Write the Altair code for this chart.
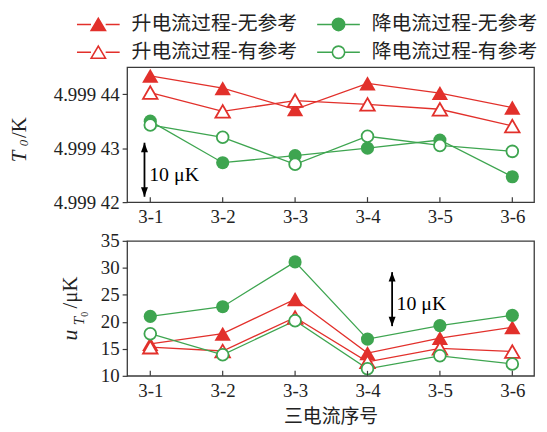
import altair as alt
import pandas as pd

# ---------------- data ----------------
categories = ["3-1", "3-2", "3-3", "3-4", "3-5", "3-6"]
positions = [1, 2, 3, 4, 5, 6]
series_names = ["升电流过程-无参考", "升电流过程-有参考", "降电流过程-无参考", "降电流过程-有参考"]

# T0 / K
t0_up_noref = [4.9994434, 4.9994411, 4.9994372, 4.9994420, 4.9994402, 4.9994375]
t0_up_ref = [4.9994403, 4.9994368, 4.9994388, 4.9994381, 4.9994372, 4.9994341]
t0_down_noref = [4.9994350, 4.9994273, 4.9994286, 4.9994300, 4.9994315, 4.9994247]
t0_down_ref = [4.9994343, 4.9994320, 4.9994270, 4.9994322, 4.9994305, 4.9994294]

# u_T0 / uK
u_up_noref = [15.9, 17.8, 24.2, 14.2, 17.0, 19.0]
u_up_ref = [15.3, 14.6, 20.8, 12.6, 15.1, 14.5]
u_down_noref = [21.0, 22.8, 31.1, 16.8, 19.3, 21.2]
u_down_ref = [17.8, 13.9, 20.2, 11.3, 13.7, 12.2]

top_ticks = [4.99942, 4.99943, 4.99944]
bottom_ticks = [10, 15, 20, 25, 30, 35]

# scale bar annotations
top_bar = {"pos": [0.92], "y0": [4.999421], "y1": [4.999431], "tx": [0.985], "ty": [4.999425], "label": ["10 μK"]}
bottom_bar = {"pos": [4.34], "y0": [19.2], "y1": [29.2], "tx": [4.40], "ty": [23.3], "label": ["10 μK"]}

# ---------------- style ----------------
RED = "#e2302b"
GREEN = "#3ea550"
FRAME = "#3a3a3a"
TXT = "#222222"
SERIF = "Liberation Serif, DejaVu Serif, serif"
CJK = "Noto Sans CJK SC"
W, H = 410, 136

styles = {
    series_names[0]: dict(color=RED, shape="triangle-up", filled=True, size=270),
    series_names[1]: dict(color=RED, shape="triangle-up", filled=False, size=215),
    series_names[2]: dict(color=GREEN, shape="circle", filled=True, size=175),
    series_names[3]: dict(color=GREEN, shape="circle", filled=False, size=140),
}

label_expr = "[" + ",".join("'%s'" % c for c in categories) + "][datum.value - 1]"
x_scale = alt.Scale(domain=[0.68, 6.3], nice=False, zero=False)


def make_df(vals):
    return pd.DataFrame({"pos": positions, "value": vals, "cat": categories})


def make_x_axis(show_title):
    return alt.Axis(
        values=positions, labelExpr=label_expr, ticks=False, domain=False, grid=False,
        labelFont=SERIF, labelFontSize=19, labelColor=TXT, labelPadding=6, labelFlush=False,
        title="三电流序号" if show_title else None,
        titleFont=CJK, titleFontSize=19, titleFontWeight="normal", titleColor=TXT, titlePadding=7,
    )


def series_layers(data, yscale, yaxis, xaxis):
    layers = []
    for name, vals in data:
        st = styles[name]
        base = alt.Chart(make_df(vals)).encode(
            x=alt.X("pos:Q", scale=x_scale, axis=xaxis),
            y=alt.Y("value:Q", scale=yscale, axis=yaxis))
        layers.append(base.mark_line(color=st["color"], strokeWidth=1.3))
    for name, vals in data:
        st = styles[name]
        base = alt.Chart(make_df(vals)).encode(
            x=alt.X("pos:Q", scale=x_scale, axis=xaxis),
            y=alt.Y("value:Q", scale=yscale, axis=yaxis))
        if st["filled"]:
            m = base.mark_point(shape=st["shape"], filled=True, color=st["color"], size=st["size"],
                                opacity=1, strokeWidth=0)
        else:
            m = base.mark_point(shape=st["shape"], filled=True, fill="white", stroke=st["color"],
                                strokeWidth=1.8, size=st["size"], opacity=1)
        layers.append(m)
    return layers


head_up = "M0,0L0.7,1.9L-0.7,1.9Z"
head_down = "M0,0L0.7,-1.9L-0.7,-1.9Z"


def bar_layers(bar, yscale, yaxis, xaxis):
    b = alt.Chart(pd.DataFrame(bar))
    xe = alt.X("pos:Q", scale=x_scale, axis=xaxis)
    rule = b.mark_rule(color="black", strokeWidth=1.8).encode(
        x=xe, y=alt.Y("y0:Q", scale=yscale, axis=yaxis), y2="y1:Q")
    up = b.mark_point(shape=head_up, filled=True, color="black", size=100, opacity=1, strokeWidth=0).encode(
        x=xe, y=alt.Y("y1:Q", scale=yscale, axis=yaxis))
    down = b.mark_point(shape=head_down, filled=True, color="black", size=100, opacity=1, strokeWidth=0).encode(
        x=xe, y=alt.Y("y0:Q", scale=yscale, axis=yaxis))
    txt = b.mark_text(align="left", baseline="middle", font=SERIF, fontSize=20, color="black").encode(
        x=alt.X("tx:Q", scale=x_scale, axis=xaxis), y=alt.Y("ty:Q", scale=yscale, axis=yaxis), text="label:N")
    return [rule, up, down, txt]


def inner_ticks(xaxis):
    return alt.Chart(pd.DataFrame({"pos": positions})).mark_rule(color=FRAME, strokeWidth=1.2).encode(
        x=alt.X("pos:Q", scale=x_scale, axis=xaxis), y=alt.value(H - 5), y2=alt.value(H))


def title_piece(text, x, y, size, italic):
    kw = dict(angle=270, align="center", baseline="alphabetic", font=SERIF, fontSize=size, color=TXT)
    if italic:
        kw["fontStyle"] = "italic"
    return alt.Chart(pd.DataFrame({"t": [text]})).mark_text(**kw).encode(
        x=alt.value(x), y=alt.value(y), text="t:N")


# ---------------- top panel ----------------
top_scale = alt.Scale(domain=[4.99942, 4.999445], nice=False, zero=False)
top_axis = alt.Axis(
    values=top_ticks, title=None, grid=False, domain=False, tickSize=5, tickColor=FRAME, tickWidth=1.2,
    labelFont=SERIF, labelFontSize=19, labelColor=TXT, labelPadding=3,
    labelExpr="substring(format(datum.value, '.5f'), 0, 5) + ' ' + substring(format(datum.value, '.5f'), 5)",
)
top_x_axis = make_x_axis(False)
top_data = [(series_names[0], t0_up_noref), (series_names[1], t0_up_ref),
            (series_names[2], t0_down_noref), (series_names[3], t0_down_ref)]

# legend (line + marker symbols); entries fill column by column
tri_path = "M-2.15,0H-0.74M0.74,0H2.15M0,-0.62L0.72,0.6L-0.72,0.6Z"
circ_path = "M-2.15,0H-0.68M0.68,0H2.15M0.62,0A0.62,0.62 0 1,1 -0.62,0A0.62,0.62 0 1,1 0.62,0Z"
legend_def = alt.Legend(
    orient="none", legendX=-40, legendY=-54, columns=2, title=None,
    labelFont=CJK, labelFontSize=20, labelColor=TXT, labelLimit=400, labelOffset=22.5,
    symbolSize=400, symbolStrokeWidth=1.6, symbolOpacity=1,
    columnPadding=16, rowPadding=7, padding=0,
)
legend_layer = alt.Chart(pd.DataFrame({"series": series_names})).transform_filter("false").mark_point(
    filled=True, opacity=1).encode(
    shape=alt.Shape("series:N", scale=alt.Scale(domain=series_names, range=[tri_path, tri_path, circ_path, circ_path]), legend=legend_def),
    stroke=alt.Stroke("series:N", scale=alt.Scale(domain=series_names, range=[RED, RED, GREEN, GREEN]), legend=legend_def),
    fill=alt.Fill("series:N", scale=alt.Scale(domain=series_names, range=[RED, "white", GREEN, "white"]), legend=legend_def),
)

top = alt.layer(
    *series_layers(top_data, top_scale, top_axis, top_x_axis),
    *bar_layers(top_bar, top_scale, top_axis, top_x_axis),
    inner_ticks(top_x_axis),
    title_piece("T", -102, 90, 21, True),
    title_piece("0", -100, 76.5, 13, True),
    title_piece("/K", -102, 61, 21, False),
    legend_layer,
).properties(width=W, height=H)

# ---------------- bottom panel ----------------
bot_scale = alt.Scale(domain=[10, 35], nice=False, zero=False)
bot_axis = alt.Axis(
    values=bottom_ticks, title=None, grid=False, domain=False, tickSize=5, tickColor=FRAME, tickWidth=1.2,
    labelFont=SERIF, labelFontSize=19, labelColor=TXT, labelPadding=3,
)
bot_x_axis = make_x_axis(True)
bot_data = [(series_names[0], u_up_noref), (series_names[1], u_up_ref),
            (series_names[2], u_down_noref), (series_names[3], u_down_ref)]

bottom = alt.layer(
    *series_layers(bot_data, bot_scale, bot_axis, bot_x_axis),
    *bar_layers(bottom_bar, bot_scale, bot_axis, bot_x_axis),
    inner_ticks(bot_x_axis),
    title_piece("u", -50, 95, 22, True),
    title_piece("T", -43, 81, 15, True),
    title_piece("0", -39.5, 74, 10, False),
    title_piece("/μK", -50, 52, 21, False),
).properties(width=W, height=H)

chart = alt.vconcat(top, bottom, spacing=3).resolve_scale(
    shape="independent", stroke="independent", fill="independent"
).configure(
    padding={"left": 0, "top": 3, "right": 0, "bottom": 0},
    background="white",
).configure_axis(
    labelFont=SERIF, labelFontSize=19, labelColor=TXT,
).configure_view(
    stroke=FRAME, strokeWidth=1.3
)

chart.save("out.html", embed_options={"renderer": "svg", "actions": False})
